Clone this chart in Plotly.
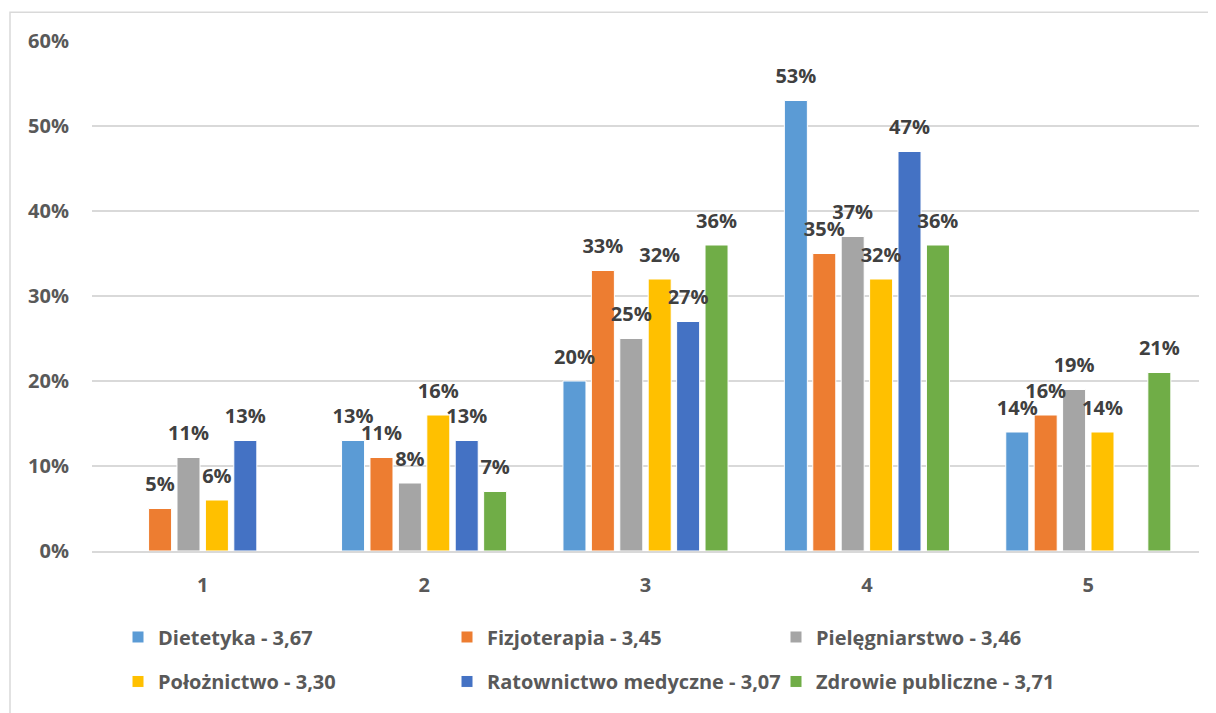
import plotly.graph_objects as go

categories = ["1", "2", "3", "4", "5"]
series_names = [
    "Dietetyka - 3,67",
    "Fizjoterapia - 3,45",
    "Pielęgniarstwo - 3,46",
    "Położnictwo - 3,30",
    "Ratownictwo medyczne - 3,07",
    "Zdrowie publiczne - 3,71",
]
dietetyka = [None, 13, 20, 53, 14]
fizjoterapia = [5, 11, 33, 35, 16]
pielegniarstwo = [11, 8, 25, 37, 19]
poloznictwo = [6, 16, 32, 32, 14]
ratownictwo = [13, 13, 27, 47, None]
zdrowie = [None, 7, 36, 36, 21]
y_ticks = [0, 10, 20, 30, 40, 50, 60]

series_values = [dietetyka, fizjoterapia, pielegniarstwo, poloznictwo, ratownictwo, zdrowie]
colors = ["#5B9BD5", "#ED7D31", "#A5A5A5", "#FFC000", "#4472C4", "#70AD47"]

FONT = "Open Sans"
FS = 20
BARGAP = 0.23

fig = go.Figure()
for i, (name, vals, col) in enumerate(zip(series_names, series_values, colors)):
    fig.add_trace(go.Bar(
        x=categories, y=vals, name=name,
        marker=dict(color=col, line=dict(color="white", width=1)),
        legend="legend" if i < 3 else "legend2",
        offsetgroup=str(i),
        hoverinfo="skip",
    ))
for i, vals in enumerate(series_values):
    fig.add_trace(go.Scatter(
        x=categories, y=vals, mode="markers+text",
        text=[None if v is None else f"{v}%" for v in vals],
        textposition="top center",
        textfont=dict(family=FONT, size=FS, color="#404040", weight="bold"),
        marker=dict(size=18, opacity=0, color="white"),
        offsetgroup=str(i),
        cliponaxis=False, showlegend=False, hoverinfo="skip",
    ))

# page body has an 8px default margin; lay out in figure pixels
W, H = 1208, 705
ml, mr, mt, mb = 84, 17, 33, 156
pw, ph = W - ml - mr, H - mt - mb

def px_x(p):
    return (p - ml) / pw

def px_y(p):
    return (H - mb - p) / ph

legend_common = dict(
    orientation="h", xanchor="left", yanchor="middle",
    entrywidth=284, entrywidthmode="pixels",
    font=dict(family=FONT, size=FS, color="#595959", weight="bold"),
    itemwidth=30, bgcolor="rgba(0,0,0,0)", traceorder="normal",
)

fig.update_layout(
    width=W, height=H,
    margin=dict(l=ml, r=mr, t=mt, b=mb),
    paper_bgcolor="white", plot_bgcolor="white",
    barmode="group", bargap=BARGAP, bargroupgap=0.19,
    scattermode="group", scattergap=BARGAP,
    showlegend=True,
    legend=dict(x=px_x(110), y=px_y(636), **legend_common),
    legend2=dict(x=px_x(110), y=px_y(681), **legend_common),
    xaxis=dict(
        tickfont=dict(family=FONT, size=FS, color="#595959", weight="bold"),
        showgrid=False, showline=True, linecolor="#d9d9d9", linewidth=1.5,
        ticks="", ticklabelstandoff=15,
    ),
    yaxis=dict(
        range=[0, 60], tickvals=y_ticks, ticktext=[f"{t}%" for t in y_ticks],
        tickfont=dict(family=FONT, size=FS, color="#595959", weight="bold"),
        showgrid=True, gridcolor="#d9d9d9", gridwidth=1.5,
        zeroline=False, showline=False, ticks="", ticklabelstandoff=22,
    ),
    shapes=[dict(
        type="rect", xref="paper", yref="paper",
        x0=px_x(2), x1=px_x(1240), y0=px_y(4), y1=px_y(740),
        line=dict(color="#d9d9d9", width=1.5), fillcolor="rgba(0,0,0,0)",
        layer="below",
    )],
)

fig.write_html("out.html")
